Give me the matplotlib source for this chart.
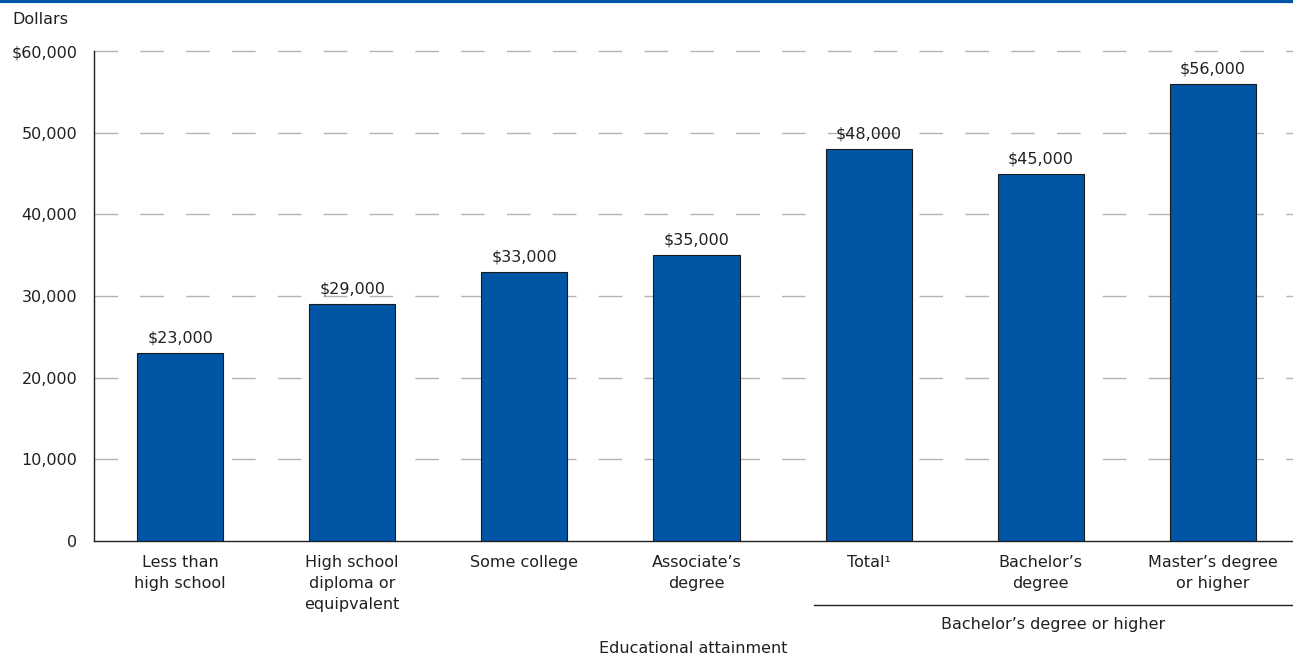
import matplotlib.pyplot as plt
import matplotlib.transforms as mtransforms
from matplotlib.ticker import FuncFormatter

categories = ["Less than\nhigh school", "High school\ndiploma or\nequipvalent", "Some college",
              "Associate\u2019s\ndegree", "Total\u00b9", "Bachelor\u2019s\ndegree",
              "Master\u2019s degree\nor higher"]
earnings = [23000, 29000, 33000, 35000, 48000, 45000, 56000]
value_labels = ["$23,000", "$29,000", "$33,000", "$35,000", "$48,000", "$45,000", "$56,000"]
grid_levels = [10000, 20000, 30000, 40000, 50000, 60000]
group_label = "Bachelor\u2019s degree or higher"

plt.rcParams['font.family'] = ['DejaVu Sans']
text_color = "#231f20"
bar_color = "#0055a5"
fs = 11.5

fig = plt.figure(figsize=(12.93, 6.61), dpi=100)
ax = fig.add_axes([0.0727, 0.1815, 0.9273, 0.7413])

x = range(len(categories))
ax.bar(x, earnings, width=0.5, color=bar_color, edgecolor="#1a1a1a", linewidth=0.8, zorder=3)

for xi, v, lab in zip(x, earnings, value_labels):
    ax.text(xi, v + 900, lab, ha="center", va="bottom", fontsize=fs, color=text_color)

xmin, xmax = -0.5, 6.465
ax.set_xlim(xmin, xmax)
ax.set_ylim(0, 60000)
ax.set_yticks(range(0, 60001, 10000))
ax.yaxis.set_major_formatter(FuncFormatter(lambda v, p: "$60,000" if v == 60000 else f"{int(v):,}"))
ax.set_xticks(list(x))
ax.set_xticklabels(categories, fontsize=fs, color=text_color, linespacing=1.5, va="top")
ax.tick_params(axis="both", length=0, labelsize=fs, colors=text_color)
ax.tick_params(axis="x", pad=10)
ax.tick_params(axis="y", pad=12)

# dashed guide lines, starting with a dash at the axis
ax.hlines(grid_levels, xmin, xmax, colors="#b3b3b3", linewidth=1,
          linestyles=[(0, (17, 16))], zorder=0, clip_on=False)
for s in ["top", "right"]:
    ax.spines[s].set_visible(False)
ax.spines["left"].set_color(text_color)
ax.spines["bottom"].set_color(text_color)
ax.spines["left"].set_linewidth(1)
ax.spines["bottom"].set_linewidth(1)

# group bracket under the last three bars
trans = mtransforms.blended_transform_factory(ax.transData, ax.transAxes)
ax.plot([3.68, xmax], [-0.131, -0.131], color=text_color, linewidth=1, transform=trans, clip_on=False)
ax.text(5.07, -0.155, group_label, transform=trans, ha="center", va="top", fontsize=fs, color=text_color)

ax.text(0.5, -0.205, "Educational attainment", transform=ax.transAxes, ha="center", va="top",
        fontsize=fs, color=text_color)
fig.text(12 / 1293, 1 - 20 / 661, "Dollars", ha="left", va="center", fontsize=fs, color=text_color)

# blue rule at the very top
fig.add_artist(plt.Line2D([0, 1], [0.998, 0.998], color=bar_color, linewidth=3, transform=fig.transFigure))

fig.savefig("out.png", dpi=100)
